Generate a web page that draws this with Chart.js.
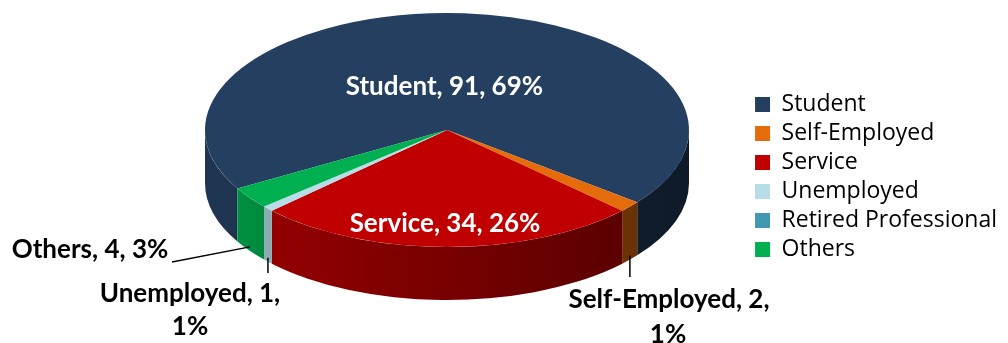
<!DOCTYPE html>
<html>
<head>
<meta charset="utf-8">
<script src="https://cdn.jsdelivr.net/npm/chart.js@4/dist/chart.umd.min.js"></script>
<style>
  html, body { margin: 0; padding: 0; background: #fff; }
</style>
</head>
<body>
<canvas id="occupationChart" width="1008" height="343"></canvas>
<script>
// Respondents by occupation
const categories = ['Student', 'Self-Employed', 'Service', 'Unemployed', 'Retired Professional', 'Others'];
const counts = [91, 2, 34, 1, 0, 4];
const percents = [69, 1, 26, 1, 0, 3];
const colors = ['#243f60', '#e46c0a', '#c00000', '#b7dde8', '#4198af', '#00b050'];

(function () {
  // flattened pie geometry on screen
  const PIE = { cx: 447, cy: 130, rx: 242, ry: 117, depth: 53 };
  const LABEL_FONT = 'bold 26px Lato';

  // darken a hex colour by factor f
  const shade = (hex, f) => {
    const n = parseInt(hex.slice(1), 16);
    const r = Math.round(((n >> 16) & 255) * f);
    const g = Math.round(((n >> 8) & 255) * f);
    const b = Math.round((n & 255) * f);
    return `rgb(${r},${g},${b})`;
  };

  // parts of [a1, a2] that face the viewer (lower half of the ellipse)
  function frontRanges(a1, a2) {
    const out = [];
    for (let k = -1; k <= 2; k++) {
      const lo = Math.max(a1, k * 2 * Math.PI);
      const hi = Math.min(a2, k * 2 * Math.PI + Math.PI);
      if (hi > lo) out.push([lo, hi]);
    }
    return out;
  }

  function drawSides(ctx, meta) {
    meta.data.forEach((arc, i) => {
      if (arc.endAngle - arc.startAngle <= 0) return;
      const grad = ctx.createLinearGradient(PIE.cx - PIE.rx, 0, PIE.cx + PIE.rx, 0);
      grad.addColorStop(0, shade(colors[i], 0.86));
      grad.addColorStop(0.15, shade(colors[i], 0.76));
      grad.addColorStop(1, shade(colors[i], 0.42));
      frontRanges(arc.startAngle, arc.endAngle).forEach(([lo, hi]) => {
        ctx.beginPath();
        ctx.ellipse(PIE.cx, PIE.cy, PIE.rx, PIE.ry, 0, lo, hi, false);
        ctx.ellipse(PIE.cx, PIE.cy + PIE.depth, PIE.rx, PIE.ry, 0, hi, lo, true);
        ctx.closePath();
        ctx.fillStyle = grad;
        ctx.fill();
      });
    });
  }

  const midAngle = (arc) => (arc.startAngle + arc.endAngle) / 2;

  // point on the top face at fraction t of the radius
  const topPoint = (a, t) => ({ x: PIE.cx + PIE.rx * t * Math.cos(a), y: PIE.cy + PIE.ry * t * Math.sin(a) });
  // point on the lower rim of the side wall
  const rimPoint = (a) => ({ x: PIE.cx + PIE.rx * Math.cos(a), y: PIE.cy + PIE.depth + PIE.ry * Math.sin(a) - 4 });

  // where each data label goes
  const labelLayout = [
    { inside: true, t: 0.37, dx: -9 },
    { lines: [[669, 300], [668, 335]], leader: [641, 277] },
    { inside: true, t: 0.8, dx: -2 },
    { lines: [[190, 294], [190, 327]], leader: [257, 273] },
    null,
    { lines: [[90, 250]], leader: [172, 262] }
  ];

  function drawLabels(ctx, meta) {
    ctx.save();
    ctx.font = LABEL_FONT;
    ctx.textAlign = 'center';
    ctx.textBaseline = 'middle';
    meta.data.forEach((arc, i) => {
      const lay = labelLayout[i];
      if (!lay || !counts[i]) return;
      const full = `${categories[i]}, ${counts[i]}, ${percents[i]}%`;
      const a = midAngle(arc);
      if (lay.inside) {
        const p = topPoint(a, lay.t);
        ctx.fillStyle = '#ffffff';
        ctx.fillText(full, p.x + lay.dx, p.y);
        return;
      }
      const rim = rimPoint(a);
      ctx.strokeStyle = '#000';
      ctx.lineWidth = 1.5;
      ctx.beginPath();
      ctx.moveTo(rim.x, rim.y);
      const lx = lay.leader[0];
      const ly = lay.leader[1];
      // vertical leaders drop straight down from the rim
      if (lay.lines.length > 1) ctx.lineTo(rim.x, ly);
      else ctx.lineTo(lx, ly);
      ctx.stroke();
      ctx.fillStyle = '#000';
      if (lay.lines.length > 1) {
        ctx.fillText(`${categories[i]}, ${counts[i]},`, lay.lines[0][0], lay.lines[0][1]);
        ctx.fillText(`${percents[i]}%`, lay.lines[1][0], lay.lines[1][1]);
      } else {
        ctx.fillText(full, lay.lines[0][0], lay.lines[0][1]);
      }
    });
    ctx.restore();
  }

  const pie3d = {
    id: 'pie3d',
    beforeDatasetsDraw(chart) {
      const meta = chart.getDatasetMeta(0);
      const ctx = chart.ctx;
      const arc0 = meta.data[0];
      drawSides(ctx, meta);
      // squash the library's circular pie onto the ellipse top face
      ctx.save();
      ctx.translate(PIE.cx, PIE.cy);
      ctx.scale(PIE.rx / arc0.outerRadius, PIE.ry / arc0.outerRadius);
      ctx.translate(-arc0.x, -arc0.y);
    },
    afterDatasetsDraw(chart) {
      chart.ctx.restore();
    },
    afterDraw(chart) {
      drawLabels(chart.ctx, chart.getDatasetMeta(0));
    }
  };

  const ctx = document.getElementById('occupationChart').getContext('2d');
  new Chart(ctx, {
    type: 'pie',
    data: {
      labels: categories,
      datasets: [{
        data: counts,
        backgroundColor: colors,
        borderWidth: 0,
        clip: false
      }]
    },
    options: {
      responsive: false,
      animation: false,
      rotation: 240,
      layout: { padding: { top: 11, right: 1 } },
      plugins: {
        legend: {
          position: 'right',
          align: 'center',
          labels: {
            boxWidth: 15,
            boxHeight: 15,
            padding: 6,
            color: '#000',
            font: { family: 'Open Sans', size: 23 }
          }
        },
        tooltip: { enabled: false }
      }
    },
    plugins: [pie3d]
  });
})();
</script>
</body>
</html>
